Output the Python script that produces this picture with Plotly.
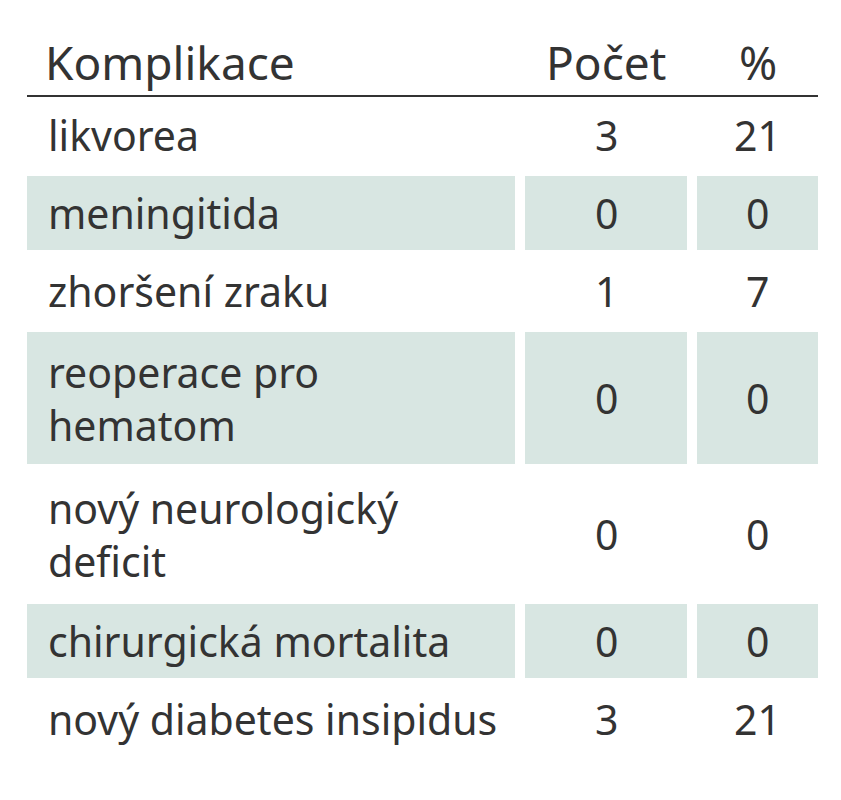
import plotly.graph_objects as go

headers = ["Komplikace", "Počet", "%"]
complications = ["likvorea", "meningitida", "zhoršení zraku", "reoperace pro<br>hematom",
                 "nový neurologický<br>deficit", "chirurgická mortalita", "nový diabetes insipidus"]
counts = [3, 0, 1, 0, 0, 0, 3]
percents = [21, 0, 7, 0, 0, 0, 21]

W, H = 841, 800
off = 8
cols = [(27, 515), (525, 687), (697, 818)]
single_h, double_h = 78, 136
header_line = 96
band = "#d8e6e2"
txt = "#333333"
font = dict(family="Noto Sans", size=41, color=txt)
hfont = dict(family="Noto Sans", size=46, color=txt)

fig = go.Figure()
shapes, ann = [], []
ann.append(dict(x=43, y=62, text=headers[0], xanchor="left", yanchor="middle", showarrow=False, font=hfont))
for (a, b), h in zip(cols[1:], headers[1:]):
    ann.append(dict(x=(a + b) / 2, y=62, text=h, xanchor="center", yanchor="middle", showarrow=False, font=hfont))
shapes.append(dict(type="line", x0=cols[0][0], x1=cols[2][1], y0=header_line, y1=header_line,
                   line=dict(color=txt, width=2)))

y = header_line
for i, (c, n, p) in enumerate(zip(complications, counts, percents)):
    h = double_h if "<br>" in c else single_h
    y0, y1 = y, y + h
    if i % 2 == 1:
        for a, b in cols:
            shapes.append(dict(type="rect", x0=a, x1=b, y0=y0 + 2, y1=y1 - 2, fillcolor=band, line=dict(width=0), layer="below"))
    yc = (y0 + y1) / 2
    ann.append(dict(x=46, y=yc, text=c, xanchor="left", yanchor="middle", align="left", showarrow=False, font=font))
    for (a, b), v in zip(cols[1:], [n, p]):
        ann.append(dict(x=(a + b) / 2, y=yc, text=str(v), xanchor="center", yanchor="middle", showarrow=False, font=font))
    y = y1

fig.update_layout(width=W, height=H, margin=dict(l=0, r=0, t=0, b=0),
                  paper_bgcolor="white", plot_bgcolor="white",
                  xaxis=dict(range=[off, W + off], visible=False, fixedrange=True),
                  yaxis=dict(range=[H + off, off], visible=False, fixedrange=True),
                  shapes=shapes, annotations=ann, showlegend=False)
fig.write_html("out.html")
